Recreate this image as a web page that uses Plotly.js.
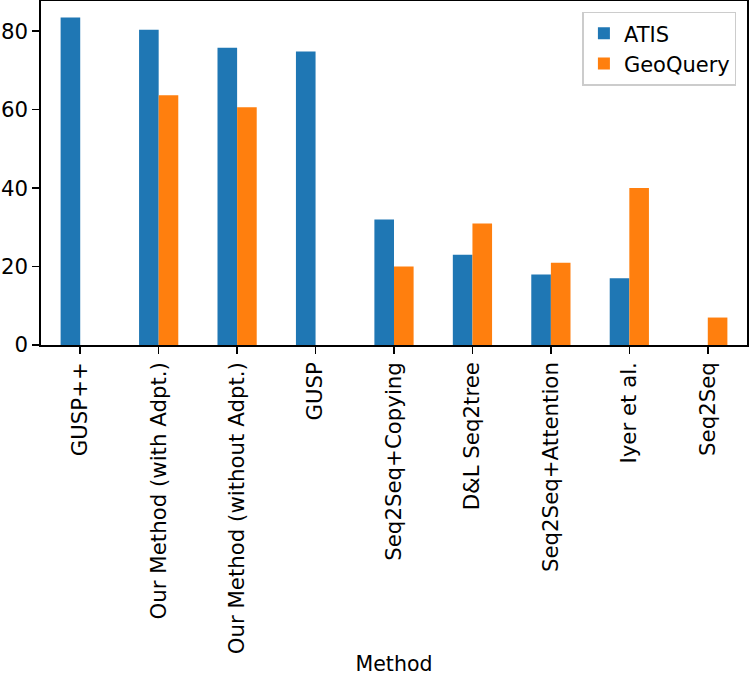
<!DOCTYPE html>
<html>
<head>
<meta charset="utf-8">
<script src="https://cdn.plot.ly/plotly-3.0.1.min.js"></script>
<style>html,body{margin:0;padding:0;background:#fff;}#chart{width:749px;height:676px;}</style>
</head>
<body>
<div id="chart"></div>
<script>
const methods = ["GUSP++", "Our Method (with Adpt.)", "Our Method (without Adpt.)", "GUSP", "Seq2Seq+Copying", "D&L Seq2tree", "Seq2Seq+Attention", "Iyer et al.", "Seq2Seq"];
const atis = [83.5, 80.4, 75.8, 74.8, 32, 23, 18, 17, null];
const geoquery = [null, 63.7, 60.6, null, 20, 31, 21, 40, 7];
const yTicks = [0, 20, 40, 60, 80];

const font = {family: "DejaVu Sans", size: 21.3, color: "#000"};

const data = [
  {type: "bar", name: "ATIS", x: methods, y: atis, marker: {color: "#1f77b4"}},
  {type: "bar", name: "GeoQuery", x: methods, y: geoquery, marker: {color: "#ff7f0e"}}
];

const layout = {
  width: 749, height: 676,
  margin: {l: 41, r: 2, t: 1, b: 331, pad: 0},
  paper_bgcolor: "#fff", plot_bgcolor: "#fff",
  font: font,
  barmode: "group", bargap: 0.5, bargroupgap: 0,
  showlegend: true,
  legend: {
    x: 0.985, xanchor: "right", y: 0.969, yanchor: "top",
    bgcolor: "rgba(255,255,255,0.8)", bordercolor: "#cccccc", borderwidth: 1.5,
    font: {family: "DejaVu Sans", size: 21, color: "#000"}
  },
  xaxis: {
    type: "category", range: [-0.5, 8.5],
    showline: true, mirror: true, linecolor: "#000", linewidth: 1.6,
    ticks: "outside", ticklen: 7, tickwidth: 1.6, tickcolor: "#000",
    tickangle: -90, tickfont: font, showgrid: false, zeroline: false,
    automargin: false,
    title: {text: "Method", font: {family: "DejaVu Sans", size: 20.5, color: "#000"}, standoff: 6}
  },
  yaxis: {
    range: [0, 87.7], tickvals: yTicks, ticktext: yTicks.map(String),
    showline: true, mirror: true, linecolor: "#000", linewidth: 1.6,
    ticks: "outside", ticklen: 7, tickwidth: 1.6, tickcolor: "#000",
    tickfont: font, showgrid: false, zeroline: false, automargin: false
  }
};

Plotly.newPlot("chart", data, layout, {displayModeBar: false, staticPlot: true});
</script>
</body>
</html>
